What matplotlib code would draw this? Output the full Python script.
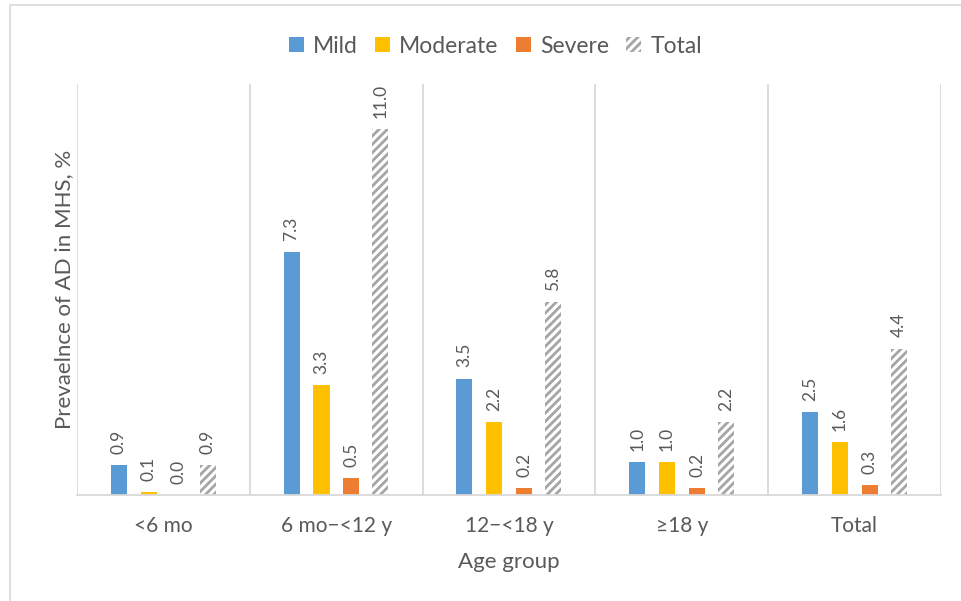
import matplotlib.pyplot as plt
import numpy as np
from matplotlib.patches import Rectangle

plt.rcParams['font.family'] = ['Lato', 'DejaVu Sans']
plt.rcParams['hatch.color'] = "#ABABAB"
plt.rcParams['hatch.linewidth'] = 2.0

groups = ["<6 mo", "6 mo\u2212<12 y", "12\u2212<18 y", "\u226518 y", "Total"]
series = ["Mild", "Moderate", "Severe", "Total"]
mild = [0.9, 7.3, 3.5, 1.0, 2.5]
moderate = [0.1, 3.3, 2.2, 1.0, 1.6]
severe = [0.0, 0.5, 0.2, 0.2, 0.3]
total = [0.9, 11.0, 5.8, 2.2, 4.4]

colors = ["#5B9BD5", "#FFC000", "#ED7D31", "#A5A5A5"]
text_color = "#595959"
grid_color = "#D9D9D9"

fig = plt.figure(figsize=(9.62, 6.01), dpi=100)
ax = fig.add_axes([77 / 962, 1 - 495 / 601, (941 - 77) / 962, (495 - 84) / 601])

x = np.arange(len(groups))
offsets = [-0.258, -0.085, 0.088, 0.256]
width = 0.093
values = [mild, moderate, severe, total]

for i, (name, vals) in enumerate(zip(series, values)):
    if name == "Total":
        bars = ax.bar(x + offsets[i], vals, width, color="white", edgecolor=colors[i],
                      hatch="////", linewidth=0, label=name)
    else:
        bars = ax.bar(x + offsets[i], vals, width, color=colors[i], label=name)
    for b, v in zip(bars, vals):
        ax.annotate(f"{v:.1f}", (b.get_x() + b.get_width() / 2, b.get_height()),
                    xytext=(0, 8), textcoords="offset points", rotation=90,
                    ha="center", va="bottom", fontsize=12.5, color=text_color)

ax.set_xlim(-0.5, len(groups) - 0.5)
ax.set_ylim(0, 12.35)
for b in np.arange(-0.5, len(groups), 1.0):
    ax.axvline(b, color=grid_color, linewidth=1.3, zorder=0)

for s in ["top", "right", "left"]:
    ax.spines[s].set_visible(False)
ax.spines["bottom"].set_color(grid_color)
ax.spines["bottom"].set_linewidth(1.3)
ax.set_yticks([])
ax.set_xticks(x)
ax.set_xticklabels(groups, fontsize=15, color=text_color)
ax.tick_params(axis="x", length=0, pad=15)

ax.set_xlabel("Age group", fontsize=16, color=text_color, labelpad=12)
ax.set_ylabel("Prevaelnce of AD in MHS, %", fontsize=16, color=text_color, labelpad=2)

leg = fig.legend(loc="upper center", bbox_to_anchor=(0.515, 0.975), ncol=4, frameon=False,
                 fontsize=16.5, handlelength=0.65, handleheight=0.65, handletextpad=0.4,
                 columnspacing=0.75, labelcolor=text_color)

fig.patches.append(Rectangle((10 / 962, -0.1), 1.2, 1 - 5 / 601 + 0.1, transform=fig.transFigure,
                             fill=False, edgecolor=grid_color, linewidth=1.2))

fig.savefig("out.png", dpi=100)
